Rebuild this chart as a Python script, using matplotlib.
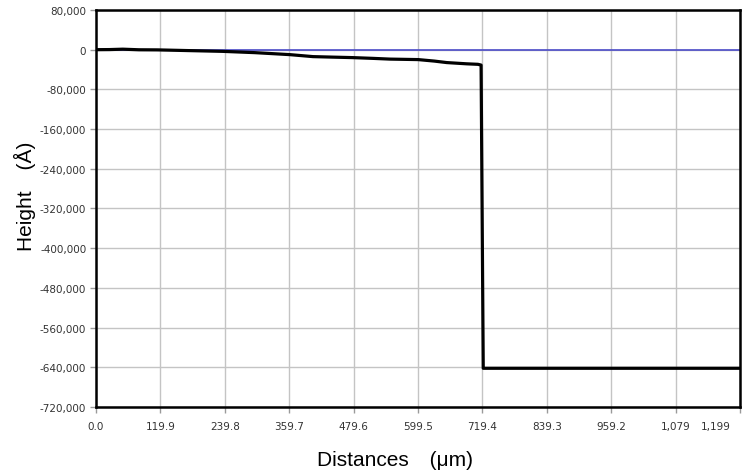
import matplotlib.pyplot as plt
from matplotlib.ticker import FuncFormatter
from matplotlib.transforms import ScaledTranslation

# Profile data (distance in um, height in angstrom)
distance = [0, 25, 50, 80, 114, 170, 236, 296, 361, 404, 440, 478, 515, 547,
            600, 630, 653, 690, 711, 717, 721, 800, 1000, 1199]
height = [0, 200, 1000, -200, -400, -1800, -3400, -6000, -10000, -14000,
          -15000, -16000, -17500, -19000, -20000, -23000, -26000, -28500,
          -29500, -31000, -642000, -642000, -642000, -642000]

x_ticks = [0.0, 119.9, 239.8, 359.7, 479.6, 599.5, 719.4, 839.3, 959.2, 1079.1, 1199.0]
x_labels = ["0.0", "119.9", "239.8", "359.7", "479.6", "599.5", "719.4",
            "839.3", "959.2", "1,079", "1,199"]
y_ticks = list(range(80000, -720001, -80000))

fig = plt.figure(figsize=(7.44, 4.77), dpi=100)
ax = fig.add_axes([0.129, 0.1447, 0.8656, 0.8323])

ax.axhline(0, color='#4b4bc8', lw=1.2, zorder=2)
ax.plot(distance, height, color='black', lw=2.3, zorder=3)

ax.set_xlim(0, 1199)
ax.set_ylim(-720000, 80000)
ax.set_xticks(x_ticks)
ax.set_xticklabels(x_labels)
ax.set_yticks(y_ticks)
ax.yaxis.set_major_formatter(FuncFormatter(lambda v, _: f"{int(v):,}"))

ax.grid(True, color='#c4c4c4', lw=1.0)
ax.set_axisbelow(True)
for s in ax.spines.values():
    s.set_linewidth(1.8)
    s.set_color('black')

ax.tick_params(axis='both', colors='#9a9a9a', length=4, width=1, labelsize=7.5,
               labelcolor='#333333', pad=3)
ax.tick_params(axis='x', pad=6)

# last x label squeezed inside the figure, like the original
last = ax.get_xticklabels()[-1]
last.set_transform(last.get_transform() + ScaledTranslation(-0.24, 0, fig.dpi_scale_trans))

fam = ['Liberation Sans', 'Noto Sans CJK JP']
ax.set_xlabel('Distances\u3000(μm)', fontsize=15, family=fam)
ax.set_ylabel('Height\u3000(Å)', fontsize=15, family=fam)
ax.xaxis.set_label_coords(0.464, -0.108)
ax.yaxis.set_label_coords(-0.093, 0.534)

plt.savefig('out.png', dpi=100, facecolor='white')
plt.close()
